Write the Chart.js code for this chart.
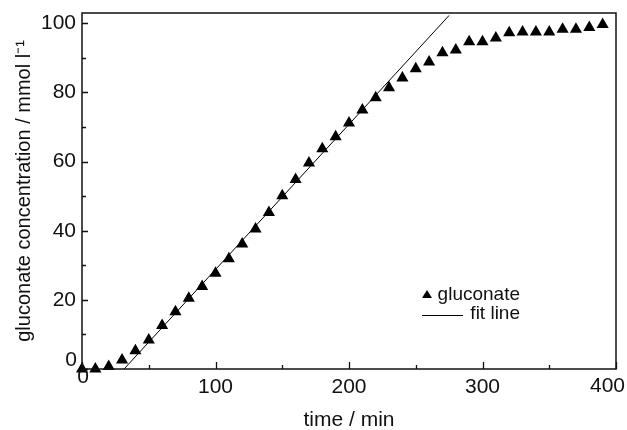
<!DOCTYPE html>
<html>
<head>
<meta charset="utf-8">
<script src="https://cdn.jsdelivr.net/npm/chart.js@4.4.1/dist/chart.umd.min.js"></script>
<style>
  html, body { margin: 0; padding: 0; background: #fff; }
  #wrap { width: 627px; height: 430px; }
</style>
</head>
<body>
<div id="wrap"><canvas id="chart" width="627" height="430"></canvas></div>
<script>
// measured gluconate, every 10 min
const times = [0, 10, 20, 30, 40, 50, 60, 70, 80, 90, 100, 110, 120, 130, 140, 150, 160, 170, 180, 190,
  200, 210, 220, 230, 240, 250, 260, 270, 280, 290, 300, 310, 320, 330, 340, 350, 360, 370, 380, 390];
const gluconate = [0, 0, 0.7, 2.6, 5.3, 8.4, 12.6, 16.6, 20.5, 23.9, 27.7, 31.9, 36.2, 40.5, 45.3, 50.1, 54.8, 59.6, 63.7, 67.2,
  71.2, 74.9, 78.5, 81.4, 84.2, 86.9, 88.8, 91.5, 92.3, 94.7, 94.7, 95.8, 97.3, 97.5, 97.5, 97.5, 98.3, 98.3, 98.8, 99.7];

// linear fit, end points
const fitTimes = [31.5, 275];
const fitValues = [0, 102.3];

const xTicks = [0, 100, 200, 300, 400];
const yTicks = [0, 20, 40, 60, 80, 100];

const FONT = 'Arial, "Liberation Sans", sans-serif';

// ticks pointing inwards, frame, the corner labels and the legend
const framePlugin = {
  id: 'frame',
  afterDraw(chart) {
    const { ctx, chartArea: a, scales } = chart;
    const x = scales.x, y = scales.y;
    ctx.save();
    ctx.strokeStyle = '#111';
    ctx.lineWidth = 1.3;
    ctx.beginPath();
    for (let v = 0; v <= 400; v += 50) {
      const px = Math.round(x.getPixelForValue(v)) + 0.5;
      const len = v % 100 === 0 ? 7 : 4;
      ctx.moveTo(px, a.bottom);
      ctx.lineTo(px, a.bottom - len);
    }
    for (let v = 0; v <= 100; v += 10) {
      const py = Math.round(y.getPixelForValue(v)) + 0.5;
      const len = v % 20 === 0 ? 6 : 4;
      ctx.moveTo(a.left, py);
      ctx.lineTo(a.left + len, py);
    }
    ctx.stroke();
    ctx.lineWidth = 1.5;
    ctx.strokeRect(a.left, a.top, a.right - a.left, a.bottom - a.top);

    // corner labels sit a bit tighter in the original
    ctx.fillStyle = '#111';
    ctx.font = '21px ' + FONT;
    ctx.textBaseline = 'middle';
    ctx.textAlign = 'right';
    ctx.fillText('0', a.left - 5, y.getPixelForValue(0) - 9);
    ctx.fillText(String(xTicks[xTicks.length - 1]), x.getPixelForValue(400) + 9, a.bottom + 17);
    ctx.textAlign = 'center';
    ctx.fillText('0', x.getPixelForValue(0) + 1, a.bottom + 8);

    // legend
    const lx = a.left + 345, ly = a.top + 282;
    ctx.fillStyle = '#000';
    ctx.beginPath();
    ctx.moveTo(lx, ly - 5);
    ctx.lineTo(lx + 5, ly + 3);
    ctx.lineTo(lx - 5, ly + 3);
    ctx.closePath();
    ctx.fill();
    ctx.lineWidth = 1;
    ctx.strokeStyle = '#000';
    ctx.beginPath();
    ctx.moveTo(lx - 5, ly + 20.5);
    ctx.lineTo(lx + 36, ly + 20.5);
    ctx.stroke();
    ctx.font = '19px ' + FONT;
    ctx.textAlign = 'right';
    ctx.fillStyle = '#111';
    ctx.fillText(chart.data.datasets[0].label, lx + 93, ly);
    ctx.fillText(chart.data.datasets[1].label, lx + 93, ly + 19);
    ctx.restore();
  }
};

new Chart(document.getElementById('chart'), {
  data: {
    datasets: [
      {
        type: 'scatter',
        label: 'gluconate',
        data: times.map((t, i) => ({ x: t, y: gluconate[i] })),
        pointStyle: 'triangle',
        pointRadius: 7,
        pointHoverRadius: 7,
        backgroundColor: '#000',
        borderColor: '#000',
        borderWidth: 0,
        clip: false,
      },
      {
        type: 'line',
        label: 'fit line',
        data: fitTimes.map((t, i) => ({ x: t, y: fitValues[i] })),
        borderColor: '#000',
        borderWidth: 1,
        pointRadius: 0,
        fill: false,
      },
    ],
  },
  options: {
    responsive: false,
    animation: false,
    layout: { padding: { top: 13, right: 11, left: 0, bottom: 0 } },
    plugins: {
      legend: { display: false },
      tooltip: { enabled: false },
    },
    scales: {
      x: {
        type: 'linear',
        min: 0,
        max: 400,
        afterBuildTicks: (s) => { s.ticks = xTicks.map((v) => ({ value: v })); },
        afterFit: (s) => {
          s.height = 61;
          s.paddingLeft = 0;
          s.paddingRight = 0;
        },
        ticks: {
          color: '#111',
          font: { size: 21, family: FONT },
          padding: 6,
          maxRotation: 0,
          callback: (v) => (v === 0 || v === 400 ? '' : v),
        },
        grid: { display: false, drawTicks: false },
        border: { display: false },
        title: {
          display: true,
          text: 'time / min',
          color: '#111',
          font: { size: 21, family: FONT },
          padding: { top: 0, bottom: -3 },
        },
      },
      y: {
        min: 0,
        max: 103,
        afterBuildTicks: (s) => { s.ticks = yTicks.map((v) => ({ value: v })); },
        afterFit: (s) => {
          s.width = 82;
          s.paddingTop = 0;
          s.paddingBottom = 0;
        },
        ticks: {
          color: '#111',
          font: { size: 21, family: FONT },
          padding: 6,
          callback: (v) => (v === 0 ? '' : v),
        },
        grid: { display: false, drawTicks: false },
        border: { display: false },
        title: {
          display: true,
          text: 'gluconate concentration / mmol l⁻¹',
          color: '#111',
          font: { size: 20, family: FONT },
          padding: { top: 12, bottom: 0 },
        },
      },
    },
  },
  plugins: [framePlugin],
});
</script>
</body>
</html>
